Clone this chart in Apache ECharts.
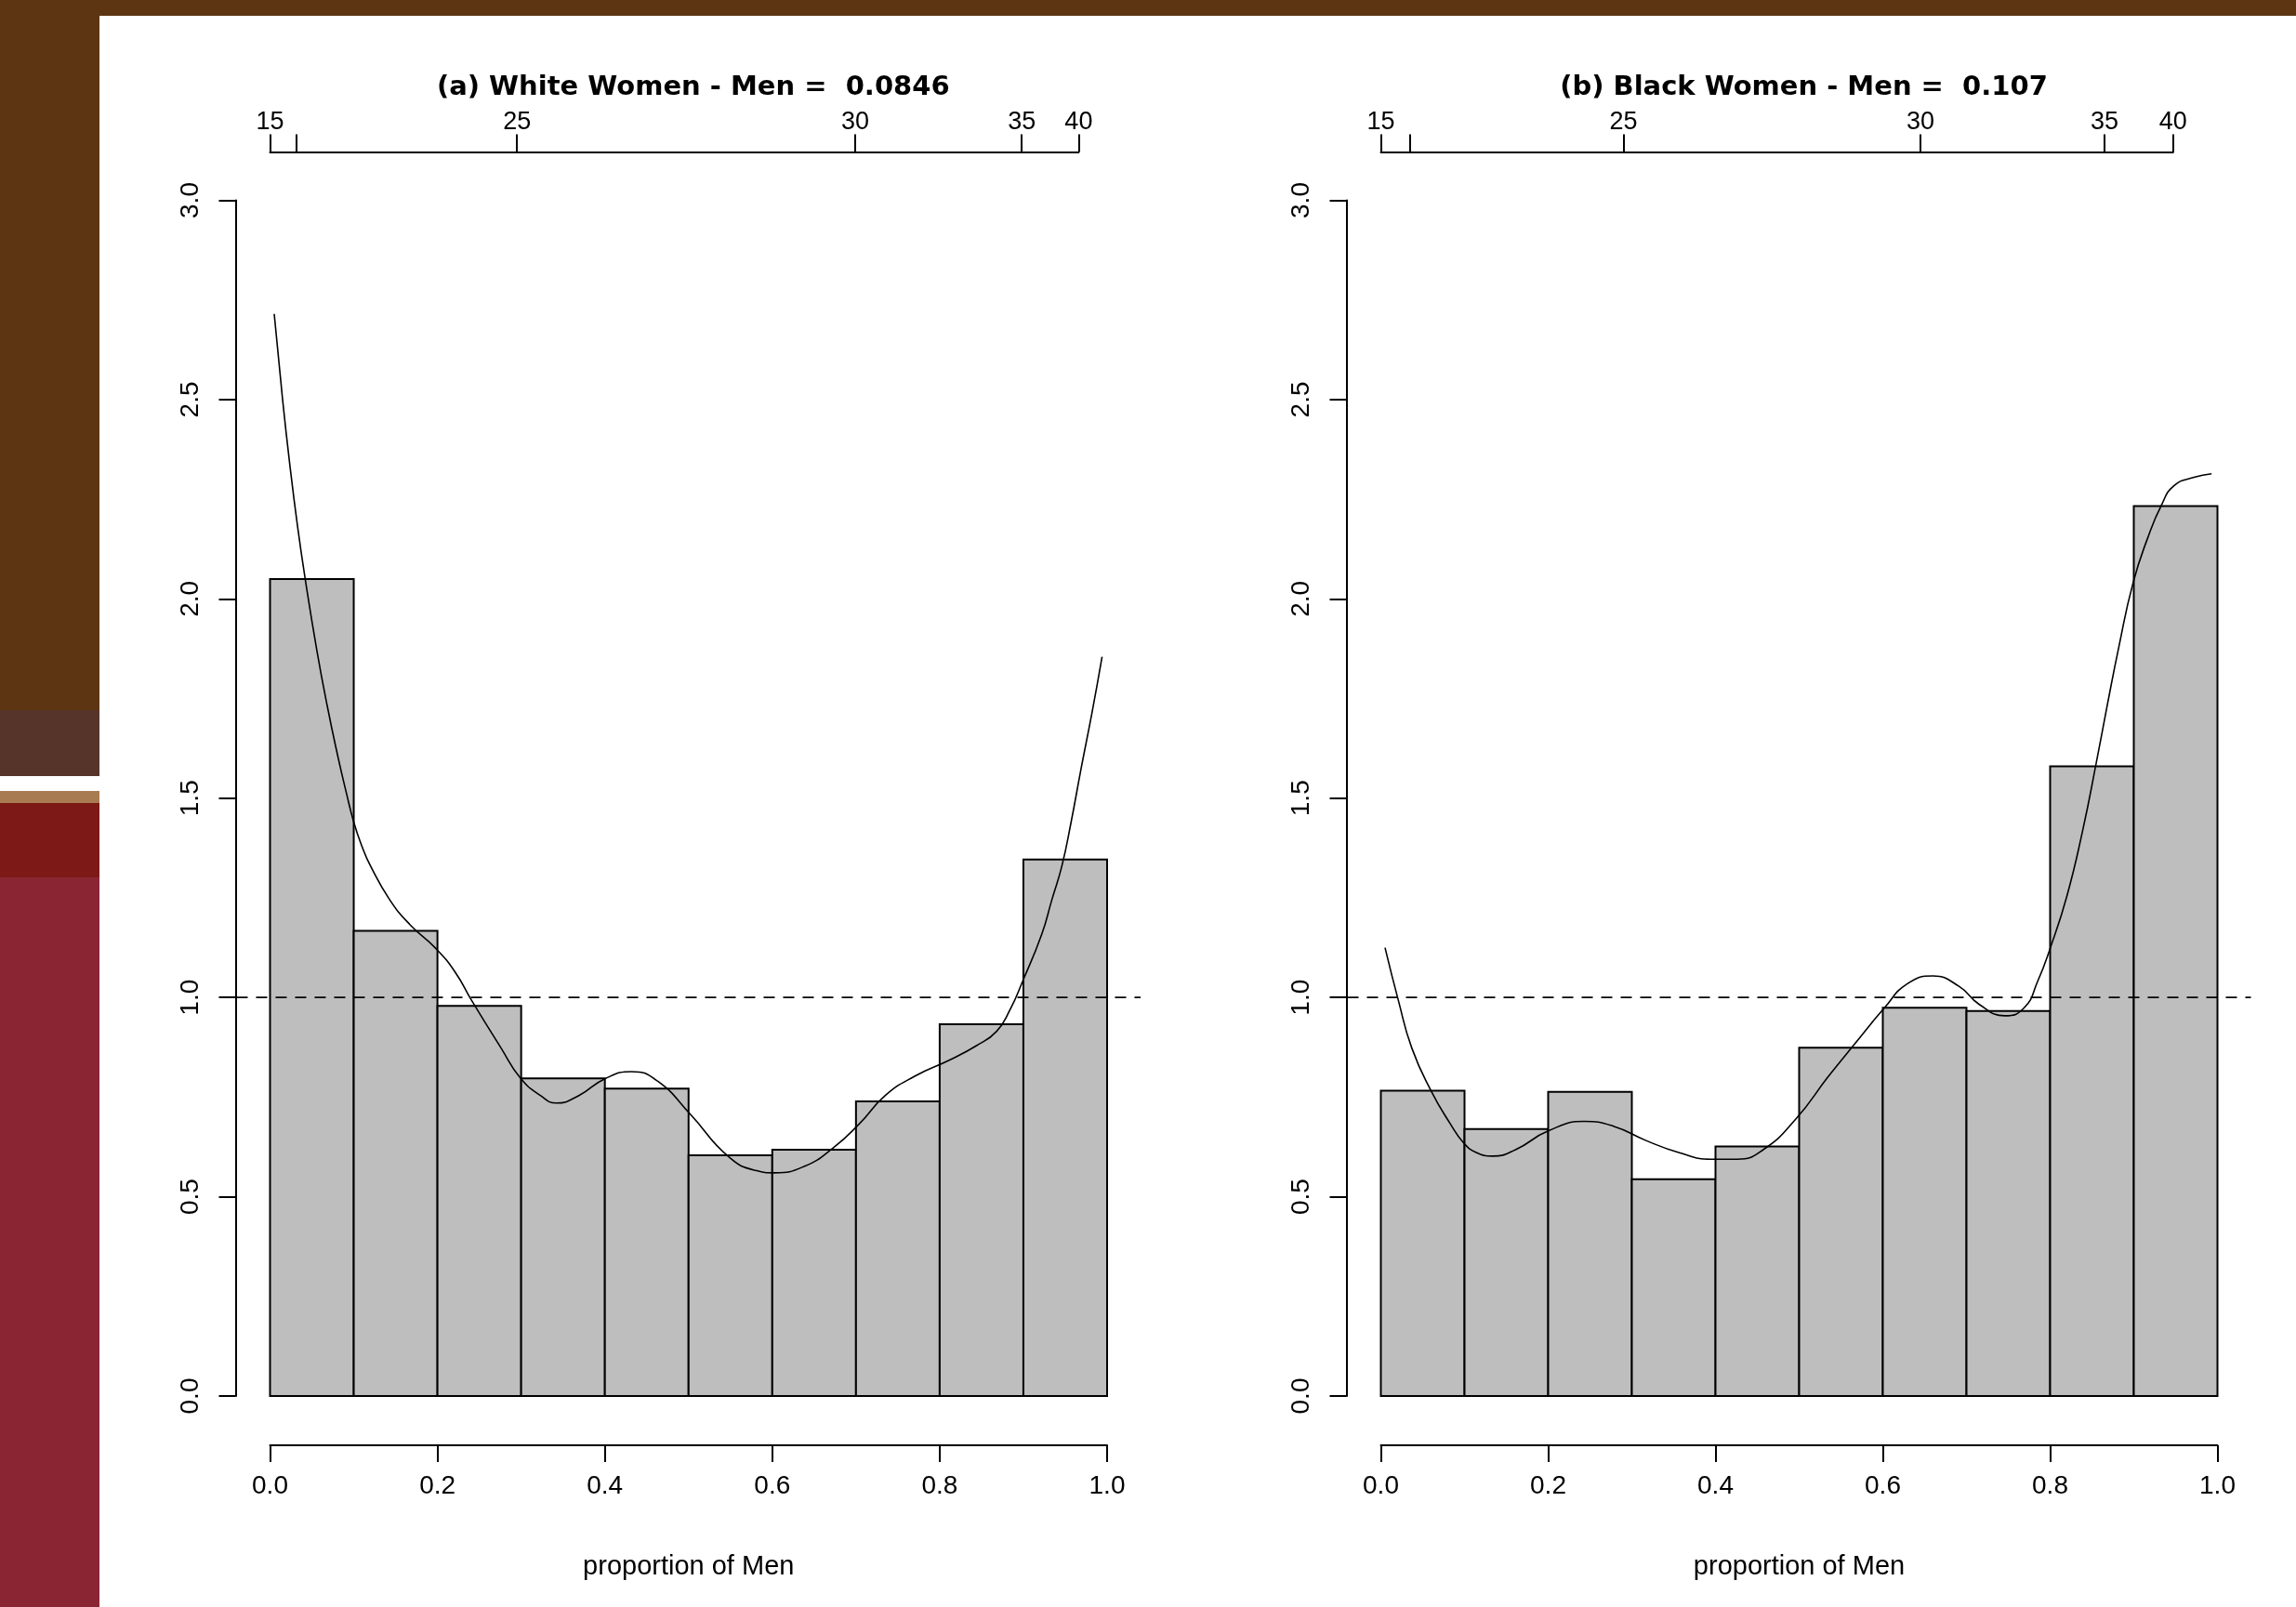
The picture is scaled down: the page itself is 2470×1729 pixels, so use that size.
<!DOCTYPE html>
<html>
<head>
<meta charset="utf-8">
<title>proportion of Men</title>
<script src="https://cdn.jsdelivr.net/npm/echarts@6/dist/echarts.min.js"></script>
<style>
  html, body { margin: 0; padding: 0; background: #fff; }
  #chart { width: 2470px; height: 1729px; }
</style>
</head>
<body>
<div id="chart"></div>
<script>
// histogram bins (proportion of Men)
const binEdges = [0, 0.1, 0.2, 0.3, 0.4, 0.5, 0.6, 0.7, 0.8, 0.9, 1.0]
const whiteDensity = [2.05, 1.167, 0.979, 0.797, 0.771, 0.604, 0.618, 0.739, 0.933, 1.346]
const blackDensity = [0.766, 0.670, 0.763, 0.544, 0.626, 0.874, 0.974, 0.966, 1.580, 2.233]

// smoothed density curves, [proportion, density]
const whiteCurve = [
  [0.005, 2.715], [0.015, 2.50], [0.024, 2.33], [0.033, 2.18], [0.042, 2.05], [0.056, 1.87],
  [0.068, 1.735], [0.081, 1.605], [0.091, 1.515], [0.100, 1.44], [0.110, 1.378], [0.120, 1.33],
  [0.143, 1.245], [0.167, 1.183], [0.198, 1.123],
  [0.221, 1.064], [0.241, 0.992], [0.276, 0.873], [0.299, 0.798], [0.323, 0.754], [0.342, 0.735],
  [0.369, 0.754], [0.400, 0.796], [0.432, 0.814], [0.463, 0.790], [0.502, 0.707], [0.548, 0.600],
  [0.580, 0.566], [0.603, 0.560], [0.638, 0.576], [0.673, 0.623], [0.704, 0.683], [0.735, 0.754],
  [0.770, 0.802], [0.813, 0.844], [0.844, 0.879], [0.868, 0.915], [0.884, 0.969], [0.899, 1.040],
  [0.922, 1.159], [0.934, 1.245], [0.946, 1.33], [0.957, 1.44], [0.969, 1.575], [0.982, 1.715],
  [0.994, 1.855]
]
const blackCurve = [
  [0.005, 1.125], [0.021, 0.992], [0.037, 0.873], [0.060, 0.766], [0.083, 0.683], [0.099, 0.635],
  [0.114, 0.611], [0.134, 0.602], [0.161, 0.618], [0.200, 0.665], [0.243, 0.689], [0.278, 0.677],
  [0.317, 0.641], [0.356, 0.611], [0.395, 0.594], [0.426, 0.594], [0.457, 0.618], [0.496, 0.695],
  [0.535, 0.802], [0.567, 0.885], [0.602, 0.974], [0.629, 1.034], [0.660, 1.054], [0.691, 1.028],
  [0.715, 0.983], [0.746, 0.954], [0.769, 0.974], [0.785, 1.040], [0.800, 1.123], [0.820, 1.254],
  [0.839, 1.420], [0.855, 1.587], [0.868, 1.73], [0.882, 1.878], [0.899, 2.039], [0.917, 2.155],
  [0.933, 2.235], [0.948, 2.284], [0.972, 2.305], [0.993, 2.314]
]

// reference line y = 1 across the whole plot region
const refLineX = [-0.04, 1.04]
const refLineY = 1

// top axis: age, placed at the matching proportion
const ageLabels = ['15', '20', '25', '30', '35', '40']
const whiteAgePos = [0, 0.031, 0.295, 0.699, 0.898, 0.966]
const blackAgePos = [0, 0.035, 0.290, 0.645, 0.865, 0.947]
const ageShown = ['15', '25', '30', '35', '40']

const titles = ['(a) White Women - Men =  0.0846', '(b) Black Women - Men =  0.107']

const FONT = "'Liberation Sans', Arial, sans-serif"
const panels = [
  {left: 290.5, width: 900.5},
  {left: 1485.5, width: 900}
]
const plotTop = 215.5, plotHeight = 1286.5

function histItem(params, api) {
  const p0 = api.coord([api.value(0), api.value(2)])
  const p1 = api.coord([api.value(1), 0])
  return {
    type: 'rect',
    shape: {x: p0[0], y: p0[1], width: p1[0] - p0[0], height: p1[1] - p0[1]},
    style: {fill: '#bebebe', stroke: '#000', lineWidth: 2}
  }
}

function bins(dens) {
  return dens.map((d, i) => [binEdges[i], binEdges[i + 1], d])
}

const agePos = [whiteAgePos, blackAgePos]
const grid = [], xAxis = [], yAxis = [], series = []

// grids 0,1: the data region (0..1 x 0..3)
panels.forEach((p, k) => {
  grid.push({left: p.left, top: plotTop, width: p.width, height: plotHeight})
  xAxis.push({
    type: 'value', gridIndex: k, min: 0, max: 1, interval: 0.2, position: 'bottom', offset: 53,
    name: 'proportion of Men', nameLocation: 'middle', nameGap: 116,
    nameTextStyle: {fontFamily: FONT, fontSize: 29, color: '#000'},
    axisLine: {onZero: false, lineStyle: {color: '#000', width: 2}},
    axisTick: {length: 18, lineStyle: {color: '#000', width: 2}},
    axisLabel: {fontFamily: FONT, fontSize: 28, color: '#000', margin: 30, formatter: v => v.toFixed(1)},
    splitLine: {show: false}
  })
  yAxis.push({
    type: 'value', gridIndex: k, min: 0, max: 3, interval: 0.5, offset: 37,
    axisLine: {show: true, onZero: false, lineStyle: {color: '#000', width: 2}},
    axisTick: {show: true, length: 18, lineStyle: {color: '#000', width: 2}},
    axisLabel: {fontFamily: FONT, fontSize: 28, color: '#000', margin: 34, rotate: 90, formatter: v => v.toFixed(1)},
    splitLine: {show: false}
  })
})

// grids 2,3: top age axes, each spanning 15..40
panels.forEach((p, k) => {
  const pos = agePos[k]
  grid.push({left: p.left, top: plotTop, width: p.width * pos[pos.length - 1], height: plotHeight})
  xAxis.push({
    type: 'value', gridIndex: 2 + k, min: 0, max: pos[pos.length - 1], position: 'top', offset: 52,
    axisLine: {onZero: false, lineStyle: {color: '#000', width: 2}},
    axisTick: {length: 19, customValues: pos, lineStyle: {color: '#000', width: 2}},
    axisLabel: {
      fontFamily: FONT, fontSize: 27, color: '#000', margin: 18,
      customValues: pos.filter((v, i) => ageShown.includes(ageLabels[i])),
      formatter: v => ageLabels[pos.indexOf(v)]
    },
    splitLine: {show: false}
  })
  yAxis.push({type: 'value', gridIndex: 2 + k, min: 0, max: 1, show: false})
})

// grids 4,5: the full plot region (x -0.04..1.04) for the reference line
panels.forEach((p, k) => {
  grid.push({left: p.left - 0.04 * p.width, top: plotTop, width: 1.08 * p.width, height: plotHeight})
  xAxis.push({type: 'value', gridIndex: 4 + k, min: refLineX[0], max: refLineX[1], show: false})
  yAxis.push({type: 'value', gridIndex: 4 + k, min: 0, max: 3, show: false})
})

const densities = [whiteDensity, blackDensity]
const curves = [whiteCurve, blackCurve]
panels.forEach((p, k) => {
  series.push({
    type: 'custom', xAxisIndex: k, yAxisIndex: k,
    renderItem: histItem, encode: {x: [0, 1], y: 2},
    data: bins(densities[k])
  })
  series.push({
    type: 'line', xAxisIndex: k, yAxisIndex: k, smooth: 0.5, showSymbol: false, symbol: 'none',
    lineStyle: {color: '#000', width: 1.6},
    data: curves[k]
  })
  series.push({
    type: 'line', xAxisIndex: 4 + k, yAxisIndex: 4 + k, showSymbol: false, symbol: 'none',
    lineStyle: {color: '#000', width: 1.6, type: [12, 9]},
    data: refLineX.map(x => [x, refLineY])
  })
})

const option = {
  animation: false,
  backgroundColor: '#fff',
  title: titles.map((t, k) => ({
    text: t,
    left: panels[k].left + panels[k].width / 2,
    top: 75,
    textAlign: 'center',
    textStyle: {fontFamily: "'DejaVu Sans', sans-serif", fontWeight: 'bold', fontSize: 29, color: '#000'}
  })),
  graphic: [
    {type: 'rect', shape: {x: 0, y: 0, width: 2470, height: 17}, style: {fill: '#5d3512'}},
    {type: 'rect', shape: {x: 0, y: 0, width: 107, height: 764}, style: {fill: '#5d3512'}},
    {type: 'rect', shape: {x: 0, y: 764, width: 107, height: 71}, style: {fill: '#56342a'}},
    {type: 'rect', shape: {x: 0, y: 851, width: 107, height: 13}, style: {fill: '#a97b51'}},
    {type: 'rect', shape: {x: 0, y: 864, width: 107, height: 80}, style: {fill: '#7d1916'}},
    {type: 'rect', shape: {x: 0, y: 944, width: 107, height: 785}, style: {fill: '#8a2634'}}
  ],
  grid: grid,
  xAxis: xAxis,
  yAxis: yAxis,
  series: series
}

const chart = echarts.init(document.getElementById('chart'))
chart.setOption(option)
</script>
</body>
</html>
